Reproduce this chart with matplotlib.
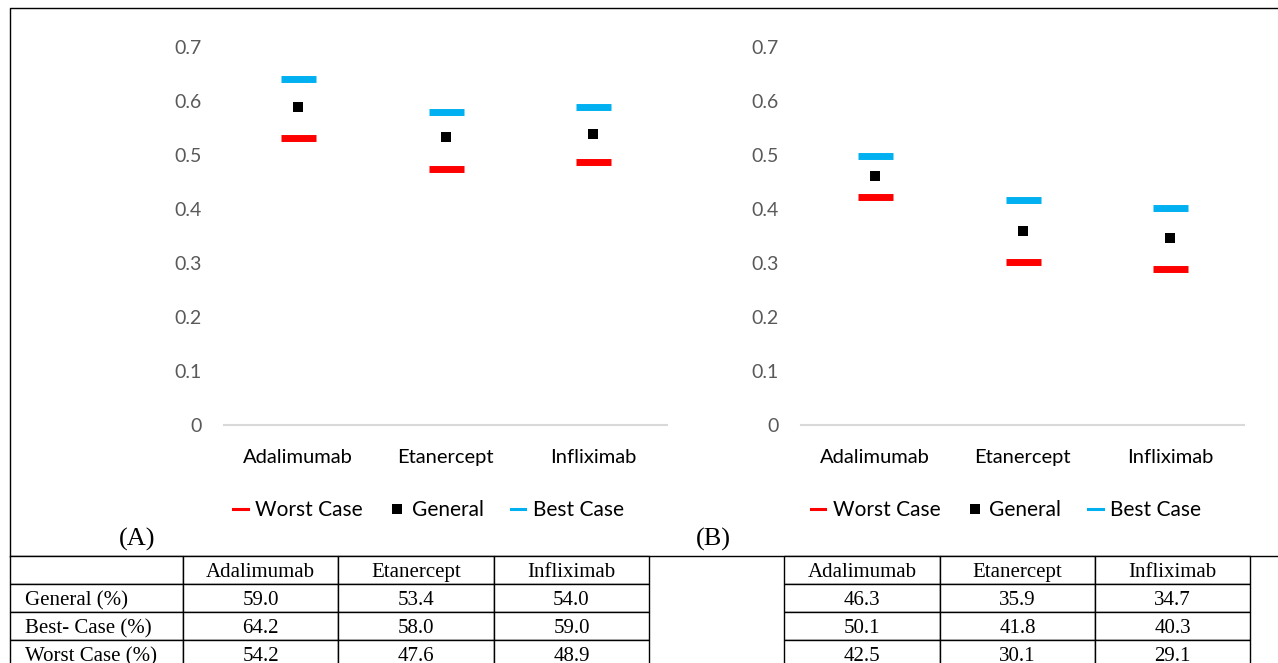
import matplotlib
matplotlib.use("Agg")
import matplotlib.pyplot as plt
from matplotlib.lines import Line2D

# ===== DATA =====
drugs = ["Adalimumab", "Etanercept", "Infliximab"]

# values
a_general = [0.588, 0.533, 0.539]
a_best = [0.641, 0.579, 0.589]
a_worst = [0.532, 0.475, 0.487]

b_general = [0.462, 0.359, 0.346]
b_best = [0.499, 0.417, 0.401]
b_worst = [0.423, 0.301, 0.289]

yticks = [0, 0.1, 0.2, 0.3, 0.4, 0.5, 0.6, 0.7]

# table text
row_labels = ["General (%)", "Best- Case (%)", "Worst Case (%)"]
table_a = [["59.0", "53.4", "54.0"],
           ["64.2", "58.0", "59.0"],
           ["54.2", "47.6", "48.9"]]
table_b = [["46.3", "35.9", "34.7"],
           ["50.1", "41.8", "40.3"],
           ["42.5", "30.1", "29.1"]]

# ===== STYLE =====
W, H = 1278, 663
RED = "#ff0000"
BLUE = "#00b0f0"
GRID = "#d9d9d9"
TICK = "#595959"
SANS = ["Lato", "DejaVu Sans"]
SERIF = ["Liberation Serif", "DejaVu Serif"]

plt.rcParams["font.family"] = SANS

fig = plt.figure(figsize=(W / 100, H / 100), dpi=100)


def px_rect(x0, x1, ytop, ybot):
    return [x0 / W, 1 - ybot / H, (x1 - x0) / W, (ybot - ytop) / H]


def draw_chart(rect, general, best, worst, legend_cx):
    ax = fig.add_axes(rect)
    x = list(range(len(drugs)))
    ax.plot(x, worst, ls="none", marker="_", ms=25.2, mew=5.0, color=RED)
    ax.plot(x, general, ls="none", marker="s", ms=6.5, mew=0, color="black")
    ax.plot(x, best, ls="none", marker="_", ms=25.2, mew=5.0, color=BLUE)

    ax.set_xlim(-0.5, len(drugs) - 0.5)
    ax.set_ylim(0, 0.7)
    ax.set_yticks(yticks)
    ax.set_yticklabels([f"{t:g}" for t in yticks])
    ax.set_xticks(x)
    ax.set_xticklabels(drugs)
    for s in ["top", "left", "right"]:
        ax.spines[s].set_visible(False)
    ax.spines["bottom"].set_color(GRID)
    ax.spines["bottom"].set_linewidth(1.5)
    ax.tick_params(axis="y", length=0, pad=16, labelsize=14, labelcolor=TICK)
    ax.tick_params(axis="x", length=0, pad=17.5, labelsize=14.5, labelcolor="black")

    handles = [
        Line2D([], [], color=RED, lw=2.2),
        Line2D([], [], ls="none", marker="s", ms=6.5, mew=0, color="black"),
        Line2D([], [], color=BLUE, lw=2.2),
    ]
    fig.legend(handles, ["Worst Case", "General", "Best Case"],
               loc="center", bbox_to_anchor=(legend_cx / W, 1 - 510 / H),
               ncol=3, frameon=False, fontsize=15, handlelength=0.7,
               handletextpad=0.35, columnspacing=1.3)
    return ax


draw_chart(px_rect(224, 667, 47, 425), a_general, a_best, a_worst, 428.5)
draw_chart(px_rect(801, 1244, 47, 425), b_general, b_best, b_worst, 1006)

# ===== OVERLAY: frame, panel letters, tables =====
ov = fig.add_axes([0, 0, 1, 1], zorder=-1)
ov.set_xlim(0, W)
ov.set_ylim(H, 0)
ov.axis("off")

ov.plot([10, 10, W], [556, 7.5, 7.5], color="black", lw=1.0)
ov.plot([10, W], [556, 556], color="black", lw=1.0)

ov.text(137, 539, "(A)", ha="center", va="center", fontsize=19, family=SERIF)
ov.text(713, 539, "(B)", ha="center", va="center", fontsize=19, family=SERIF)


def draw_table(x_edges, cells, col_labels, left_col=False):
    tab_ax = fig.add_axes([0, 0, 1, 1], zorder=-1)
    tab_ax.axis("off")
    x0, x1 = x_edges[0], x_edges[-1]
    y0, y1 = 556, 556 + 28 * 4
    tbl = tab_ax.table(cellText=cells, colLabels=col_labels, cellLoc="center",
                       bbox=[x0 / W, 1 - y1 / H, (x1 - x0) / W, (y1 - y0) / H])
    tbl.auto_set_font_size(False)
    tbl.set_fontsize(15)
    widths = [(x_edges[i + 1] - x_edges[i]) / (x1 - x0) for i in range(len(x_edges) - 1)]
    for (r, c), cell in tbl.get_celld().items():
        cell.set_width(widths[c])
        cell.set_linewidth(1.0)
        cell.get_text().set_fontfamily(SERIF)
        cell.get_text().set_va("center_baseline")
        if left_col and c == 0:
            cell._loc = "left"
            cell.PAD = 0.085
            cell.get_text().set_ha("left")
    return tbl


draw_table([10, 183, 338, 494, 649],
           [[lab] + vals for lab, vals in zip(row_labels, table_a)],
           [""] + drugs, left_col=True)
draw_table([784, 940, 1095, 1250], table_b, drugs)

fig.savefig("out.png", dpi=100)
